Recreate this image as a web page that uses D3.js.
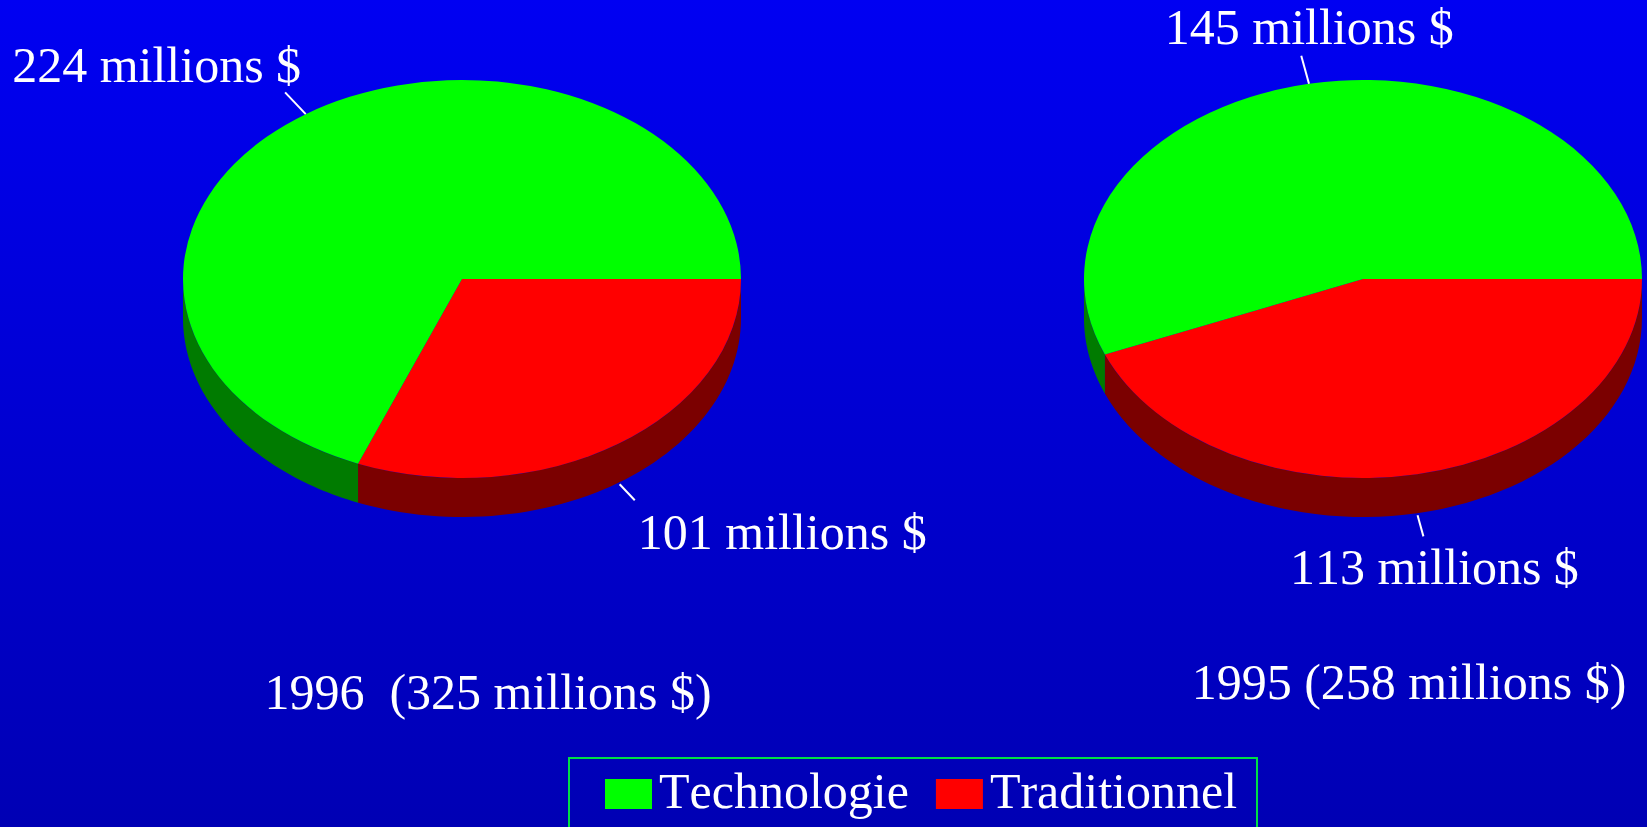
<!DOCTYPE html>
<html>
<head>
<meta charset="utf-8">
<script src="https://cdn.jsdelivr.net/npm/d3@7"></script>
<style>
  body { margin: 0; background: #0000b4; }
  svg { display: block; }
  text { font-family: "Liberation Serif", "Times New Roman", serif; fill: #fff; white-space: pre; font-kerning: none; }
</style>
</head>
<body>
<script>
// Données
const years = ["1996", "1995"];
const categories = ["Traditionnel", "Technologie"];
const traditionnel = [101, 113];
const technologie = [224, 145];
const sliceLabels = [["101 millions $", "224 millions $"], ["113 millions $", "145 millions $"]];
const pieTitles = ["1996  (325 millions $)", "1995 (258 millions $)"];
const legendOrder = ["Technologie", "Traditionnel"];

// Dimensions
const WIDTH = 1647;
const HEIGHT = 827;
const rx = 279;
const ry = 199;
const depth = 39;
const cy = 279;
const fontSize = 50;

const topColor = { Technologie: "#00ff00", Traditionnel: "#ff0000" };
const sideColor = { Technologie: "#007b00", Traditionnel: "#7b0000" };

// placement des étiquettes autour de chaque tarte [pie][slice]
const labelLayout = [
  [{ anchor: "start", dx: 3, dy: 49, start: 2, len: 22 },
   { anchor: "end", dx: 16, dy: -10, start: 0, len: 30 }],
  [{ anchor: "middle", dx: 11, dy: 48, start: 2, len: 22 },
   { anchor: "middle", dx: 8, dy: -12, start: 0, len: 29 }]
];
const titleOffset = [26, 46];
const titleY = [709, 699];

const svg = d3.select("body")
  .append("svg")
  .attr("width", WIDTH)
  .attr("height", HEIGHT);

const grad = svg.append("defs")
  .append("linearGradient")
  .attr("id", "bg")
  .attr("x1", 0).attr("y1", 0).attr("x2", 0).attr("y2", 1);
grad.append("stop").attr("offset", "0%").attr("stop-color", "#0000f2");
grad.append("stop").attr("offset", "100%").attr("stop-color", "#0000b4");

svg.append("rect")
  .attr("width", WIDTH)
  .attr("height", HEIGHT)
  .attr("fill", "url(#bg)");

// position horizontale des tartes
const escalaX = d3.scalePoint()
  .domain(years)
  .range([462, 1363]);

const pie = d3.pie()
  .sort(null)
  .value(d => d.value)
  .startAngle(Math.PI / 2)
  .endAngle(Math.PI / 2 + 2 * Math.PI);

const arc = d3.arc().innerRadius(0).outerRadius(rx);

const line = d3.line();

// paroi latérale visible (moitié avant de l'ellipse)
function wallPath(a0, a1) {
  const b0 = Math.max(a0, Math.PI / 2);
  const b1 = Math.min(a1, 3 * Math.PI / 2);
  if (b1 <= b0) return null;
  const steps = d3.range(0, 61).map(i => b0 + (b1 - b0) * i / 60);
  const topPts = steps.map(a => [rx * Math.sin(a), -ry * Math.cos(a)]);
  const botPts = steps.slice().reverse().map(a => [rx * Math.sin(a), -ry * Math.cos(a) + depth]);
  return line(topPts.concat(botPts)) + "Z";
}

years.forEach((year, i) => {
  const data = categories.map(c => ({
    key: c,
    value: c === "Traditionnel" ? traditionnel[i] : technologie[i]
  }));
  const arcs = pie(data);
  const cx = escalaX(year);

  const g = svg.append("g").attr("transform", `translate(${cx},${cy})`);

  g.selectAll("path.wall")
    .data(arcs.filter(d => wallPath(d.startAngle, d.endAngle)))
    .enter()
    .append("path")
    .attr("class", "wall")
    .attr("d", d => wallPath(d.startAngle, d.endAngle))
    .attr("fill", d => sideColor[d.data.key]);

  g.append("g")
    .attr("transform", `scale(1,${ry / rx})`)
    .selectAll("path")
    .data(arcs)
    .enter()
    .append("path")
    .attr("d", arc)
    .attr("fill", d => topColor[d.data.key]);

  // lignes de rappel et étiquettes
  arcs.forEach((d, j) => {
    const lay = labelLayout[i][j];
    const mid = (d.startAngle + d.endAngle) / 2;
    const ux = Math.sin(mid);
    const uy = -Math.cos(mid);
    const px = rx * ux;
    const py = ry * uy + (uy > 0 ? depth : 0);
    const n = Math.hypot(rx * ux, ry * uy);
    const dx = rx * ux / n;
    const dy = ry * uy / n;
    const x1 = px + dx * lay.start, y1 = py + dy * lay.start;
    const x2 = px + dx * (lay.start + lay.len), y2 = py + dy * (lay.start + lay.len);
    g.append("line")
      .attr("x1", x1).attr("y1", y1)
      .attr("x2", x2).attr("y2", y2)
      .attr("stroke", "#fff")
      .attr("stroke-width", 2);
    g.append("text")
      .attr("x", x2 + lay.dx)
      .attr("y", y2 + lay.dy)
      .attr("text-anchor", lay.anchor)
      .attr("font-size", fontSize)
      .text(sliceLabels[i][j]);
  });

  svg.append("text")
    .attr("x", cx + titleOffset[i])
    .attr("y", titleY[i])
    .attr("text-anchor", "middle")
    .attr("font-size", fontSize)
    .text(pieTitles[i]);
});

// Légende
const legend = svg.append("g");
legend.append("rect")
  .attr("x", 569)
  .attr("y", 758)
  .attr("width", 688)
  .attr("height", 90)
  .attr("fill", "none")
  .attr("stroke", "#00dd44")
  .attr("stroke-width", 2);

let lx = 605;
legendOrder.forEach(k => {
  legend.append("rect")
    .attr("x", lx)
    .attr("y", 779)
    .attr("width", 47)
    .attr("height", 30)
    .attr("fill", topColor[k]);
  const t = legend.append("text")
    .attr("x", lx + 54)
    .attr("y", 808)
    .attr("font-size", fontSize)
    .text(k);
  lx += 54 + t.node().getComputedTextLength() + 27;
});
</script>
</body>
</html>
